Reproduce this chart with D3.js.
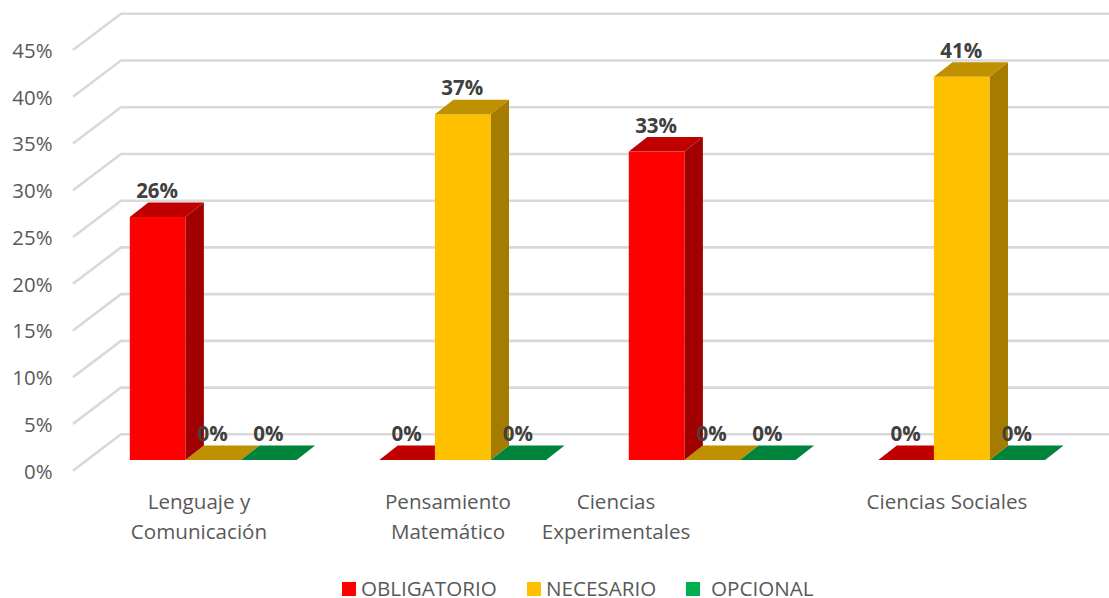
<!DOCTYPE html>
<html><head><meta charset="utf-8">
<script src="https://cdn.jsdelivr.net/npm/d3@7"></script>
<style>html,body{margin:0;padding:0;background:#fff;overflow:hidden}svg{display:block}text{font-family:"Open Sans",sans-serif}</style>
</head><body><svg id="c" width="1109" height="598"></svg>
<script>
const categories = [["Lenguaje y","Comunicación"],["Pensamiento","Matemático"],["Ciencias","Experimentales"],["Ciencias Sociales"]];
const seriesNames = ["OBLIGATORIO","NECESARIO","OPCIONAL"];
const obligatorio = [26,0,33,0];
const necesario = [0,37,0,41];
const opcional = [0,0,0,0];
const ticks = [0,5,10,15,20,25,30,35,40,45];

const colFront = ["#ff0000","#ffc000","#00b050"];
const colTop = ["#c00000","#bf9000","#00843c"];
const colSide = ["#a00000","#a67c00","#006b30"];
const labelX = [199,448,616,947];
const legendSwatch = [342,527,686];
const legendText = [361,546,711];

const svg = d3.select("#c");
const series = [obligatorio,necesario,opcional];
const y = d3.scaleLinear().domain([0,45]).range([460,460-45*9.345]);
const x0 = d3.scaleBand().domain(d3.range(4)).range([5.5,1003.5]).paddingInner(0).paddingOuter(0);
const bw = 55.6;
const x1 = d3.scaleBand().domain(d3.range(3)).range([0,bw*3]);
const DX = 18.5, DY = -14.5;
const groupX = i => x0(i) + 124.3;

// grid: side wall diagonal and back wall
const wall = svg.append("g");
ticks.forEach(t=>{
  const yb = y(t)-25.7;
  wall.append("path").attr("d",`M73,${yb+36.3}L121,${yb}L1109,${yb}`)
    .attr("fill","none").attr("stroke","#d9d9d9").attr("stroke-width",2.6);
});

// value axis
const axis = d3.axisLeft(y).tickValues(ticks).tickSize(0).tickPadding(0).tickFormat(d=>d+"%");
const ga = svg.append("g").attr("transform","translate(52.5,11.5)").call(axis);
ga.select(".domain").remove();
ga.selectAll("text").attr("fill","#595959").style("font-size","20.4px").style("font-family",'"Open Sans",sans-serif');

// bars
const bars = svg.append("g");
categories.forEach((c,i)=>{
  const order = d3.range(3).sort((a,b)=>series[a][i]-series[b][i]);
  order.forEach(s=>{
    const v = series[s][i], l = groupX(i)+x1(s), r = l+bw, t = y(v), b = y(0);
    const g = bars.append("g");
    if(v>0){
      g.append("path").attr("d",`M${r},${t}L${r+DX},${t+DY}L${r+DX},${b+DY}L${r},${b}Z`).attr("fill",colSide[s]);
      g.append("rect").attr("x",l).attr("y",t).attr("width",bw).attr("height",b-t).attr("fill",colFront[s]);
    }
    g.append("path").attr("d",`M${l},${t}L${l+DX},${t+DY}L${r+DX},${t+DY}L${r},${t}Z`).attr("fill",colTop[s]);
  });
});

// data labels
const labels = svg.append("g");
categories.forEach((c,i)=>{
  series.forEach((sv,s)=>{
    labels.append("text").attr("x",groupX(i)+x1(s)+bw/2-0.5).attr("y",y(sv[i])-19)
      .attr("text-anchor","middle").attr("font-weight",700).attr("font-size",20.5).attr("fill","#404040")
      .text(sv[i]+"%");
  });
});

// category labels
const cl = svg.append("g");
categories.forEach((lines,i)=>{
  lines.forEach((ln,k)=>{
    cl.append("text").attr("x",labelX[i]).attr("y",509+k*29.5).attr("text-anchor","middle")
      .attr("font-size",20.6).attr("fill","#595959").text(ln);
  });
});

// legend
const lg = svg.append("g");
seriesNames.forEach((n,i)=>{
  lg.append("rect").attr("x",legendSwatch[i]).attr("y",582).attr("width",14).attr("height",14).attr("fill",colFront[i]);
  lg.append("text").attr("x",legendText[i]).attr("y",596).attr("font-size",20.6).attr("fill","#595959").text(n);
});
</script></body></html>
